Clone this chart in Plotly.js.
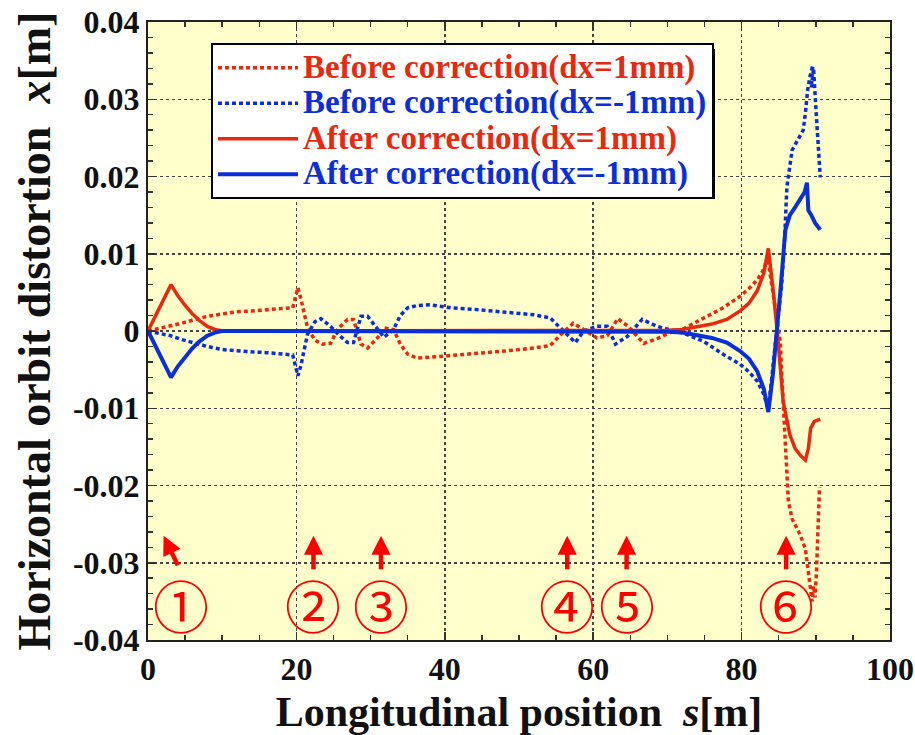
<!DOCTYPE html>
<html>
<head>
<meta charset="utf-8">
<script src="https://cdn.plot.ly/plotly-3.0.1.min.js"></script>
<style>html,body{margin:0;padding:0;background:#fff;}#chart{width:915px;height:735px;}</style>
</head>
<body>
<div id="chart"></div>
<script>
// ---- Data ----
// Before correction (dx = 1mm)  – red dotted
const sBeforePos = [0,1.5,3,4.5,6,8,10,12,14,16,18,19.5,20.2,20.6,21.5,22.5,23.5,24.6,25.6,26.9,27.7,28.7,29.6,31,31.8,33.1,34,35,36.3,38,40.8,44,48,52,54.2,55.6,57.3,58.7,60.5,61.9,63.3,64.6,66.8,68.6,70.4,72.2,74.8,77.5,79.8,81,82.1,83,83.5,84.2,84.8,85.2,85.6,86.0,86.3,86.8,87.9,88.6,88.9,89.2,89.5,89.7,89.9,90.1,90.5];
const xBeforePos = [0,0.0003,0.0006,0.001,0.0014,0.0019,0.0022,0.0025,0.0026,0.0027,0.0029,0.003,0.0056,0.0042,0.0004,-0.0012,-0.0017,-0.0016,0.0003,0.0015,0.0015,-0.0017,-0.0022,-0.0008,0.0004,0.0002,-0.0017,-0.003,-0.0035,-0.0034,-0.0032,-0.0029,-0.0026,-0.0022,-0.0019,-0.0005,0.001,0.0002,-0.0009,-0.0006,0.0016,0.0007,-0.0016,-0.001,-0.0002,0.0003,0.0016,0.003,0.0045,0.0055,0.0066,0.008,0.0096,0.005,0.0012,-0.0013,-0.0091,-0.0178,-0.022,-0.0243,-0.0264,-0.0282,-0.0308,-0.0334,-0.035,-0.033,-0.0345,-0.031,-0.0202];

// Before correction (dx = -1mm) – blue dotted
const sBeforeNeg = [0,1.5,3,4.5,6,8,10,12,14,16,18,19.5,20.2,20.6,21.5,22.5,23.3,24.6,25.6,26.9,27.7,28.7,29.6,31,31.8,33.1,34,35,36.3,38,40.8,44,48,52,54.2,55.6,57.6,58.7,60.5,61.9,63,64.6,66.6,68.6,70.4,72.2,74.8,77.5,79.8,81,82.1,83,83.6,84.2,84.8,85.4,85.8,86.1,86.8,87.6,88.3,88.6,88.9,89.2,89.6,89.4,89.7,90.0,90.3,90.6];
const xBeforeNeg = [0,-0.0003,-0.0006,-0.0011,-0.0015,-0.002,-0.0024,-0.0026,-0.0027,-0.0028,-0.003,-0.0031,-0.0058,-0.0045,-0.0004,0.0012,0.0016,0.0006,-0.0004,-0.0015,-0.0015,0.0019,0.0019,0.0002,-0.0008,0.0002,0.002,0.003,0.0033,0.0034,0.003,0.0028,0.0025,0.0021,0.0017,0.0004,-0.0015,0,0.0006,0.0006,-0.0017,-0.0007,0.0015,0.0006,0.0002,-0.0003,-0.0013,-0.003,-0.0043,-0.0053,-0.0065,-0.0082,-0.0102,-0.005,0,0.006,0.012,0.0186,0.0234,0.0248,0.026,0.0282,0.0312,0.0329,0.0344,0.0315,0.034,0.029,0.0234,0.0199];

// After correction (dx = 1mm) – red solid
const sAfterPos = [0,1,2,3.1,4,5,6,7,8,9,10,15,20,30,40,50,60,66,70,72,74,76,78,79.8,81,82.1,83,83.6,84.2,84.8,85.6,86.1,86.5,87.2,88,88.6,89,89.3,89.8,90.6];
const xAfterPos = [0,0.0019,0.0039,0.006,0.0046,0.0033,0.0022,0.0013,0.0006,0.0002,0,0,0,0,0,0,0,0,0.0001,0.0002,0.0005,0.0009,0.0015,0.0026,0.0036,0.0052,0.0075,0.0107,0.0058,0,-0.0091,-0.0115,-0.0134,-0.0152,-0.0162,-0.0167,-0.0152,-0.0126,-0.0117,-0.0114];

// After correction (dx = -1mm) – blue solid
const sAfterNeg = [0,1,2,3.1,4,5,6,7,8,9,10,15,20,30,40,50,60,66,70,72,74,76,78,79.8,81,82.1,83,83.6,84.2,84.8,85.3,85.9,86.5,87.2,87.9,88.5,88.8,89.0,89.4,89.9,90.6];
const xAfterNeg = [0,-0.0019,-0.0039,-0.006,-0.0046,-0.0033,-0.0022,-0.0013,-0.0006,-0.0002,0,0,0,0,0,0,0,0,-0.0001,-0.0002,-0.0005,-0.0009,-0.0015,-0.0026,-0.0036,-0.0052,-0.0075,-0.0105,-0.0058,0,0.006,0.0131,0.015,0.016,0.0171,0.018,0.0192,0.0156,0.015,0.014,0.0131];

const seriesNames = ['Before correction(dx=1mm)','Before correction(dx=-1mm)','After correction(dx=1mm)','After correction(dx=-1mm)'];

// tick labels
const xTickVals = [0,20,40,60,80,100];
const xTickText = ['0','20','40','60','80','100'];
const yTickVals = [-0.04,-0.03,-0.02,-0.01,0,0.01,0.02,0.03,0.04];
const yTickText = ['-0.04','-0.03','-0.02','-0.01','0','0.01','0.02','0.03','0.04'];

// circled position markers
const markerLabels = ['①','②','③','④','⑤','⑥'];
const markerS = [4.4,22.3,31.4,56.5,64.6,86.0];
const arrowHeadS = [2.1,22.3,31.4,56.5,64.5,86.0];
const arrowHeadX = -0.0265;
const markerX = -0.0353;

// ---- Drawing ----
const RED = '#E8290F';
const BLUE = '#0A2FD8';
const SERIF = 'Liberation Serif, Times New Roman, serif';

function nm(t, c){ return '<span style="color:'+c+';font-size:33px">'+t+'</span>'; }

const traces = [
  {x:sBeforePos, y:xBeforePos, mode:'lines', name:nm(seriesNames[0],RED), line:{color:RED, width:3.5, dash:'4px,3px'}},
  {x:sBeforeNeg, y:xBeforeNeg, mode:'lines', name:nm(seriesNames[1],BLUE), line:{color:BLUE, width:3.5, dash:'4px,3px'}},
  {x:sAfterPos, y:xAfterPos, mode:'lines', name:nm(seriesNames[2],RED), line:{color:RED, width:3.5}},
  {x:sAfterNeg, y:xAfterNeg, mode:'lines', name:nm(seriesNames[3],BLUE), line:{color:BLUE, width:4}}
];

const annotations = [];
for (let i=0;i<markerLabels.length;i++){
  annotations.push({x:markerS[i], y:markerX, xref:'x', yref:'y', text:markerLabels[i], showarrow:false,
    font:{family:'Noto Sans CJK JP', size:56, color:'#FF0000'}});
  annotations.push({x:arrowHeadS[i], y:arrowHeadX, xref:'x', yref:'y', text:'', showarrow:true,
    arrowhead:2, arrowsize:0.85, arrowwidth:4.5, arrowcolor:'#FF0000', ax:(i===0?15:0), ay:(i===0?31:35)});
}

// legend drop shadow (paper coords of the legend box, offset by a few px)
const PW = 742, PH = 618;
const shapes = [{type:'rect', xref:'paper', yref:'paper', layer:'above',
  x0:(215-148)/PW, x1:(715-148)/PW, y0:1-(199-22)/PH, y1:1-(49-22)/PH,
  fillcolor:'#000', line:{width:0}}];

const axisCommon = {
  ticks:'inside', ticklen:8, tickwidth:1.5, tickcolor:'#333', mirror:'ticks',
  showline:true, linecolor:'#222', linewidth:2,
  showgrid:true, gridcolor:'#444', gridwidth:1.5, griddash:'dot', zeroline:false,
  tickfont:{family:SERIF, size:32, color:'#111', weight:'bold'}
};

const layout = {
  width:915, height:735,
  margin:{l:148, r:25, t:22, b:95},
  paper_bgcolor:'#FFFFFF', plot_bgcolor:'#FFFFCC',
  showlegend:true,
  legend:{x:(211-148)/PW, y:1-(43-22)/PH, xanchor:'left', yanchor:'top', bgcolor:'#FFFFFF', bordercolor:'#000', borderwidth:2,
    font:{family:SERIF, size:25, weight:'bold'}, itemwidth:80},
  xaxis:Object.assign({}, axisCommon, {range:[0,100], tickvals:xTickVals, ticktext:xTickText,
    minor:{dtick:5, ticks:'inside', ticklen:5, tickcolor:'#333', showgrid:false},
    title:{text:'Longitudinal position  <i>s</i>[m]', font:{family:SERIF, size:42, color:'#111', weight:'bold'}, standoff:10}}),
  yaxis:Object.assign({}, axisCommon, {range:[-0.04,0.04], tickvals:yTickVals, ticktext:yTickText,
    minor:{dtick:0.002, ticks:'inside', ticklen:5, tickcolor:'#333', showgrid:false},
    title:{text:'Horizontal orbit distortion  <i>x</i>[m]', font:{family:SERIF, size:46, color:'#111', weight:'bold'}, standoff:8}}),
  annotations:annotations,
  shapes:shapes
};

Plotly.newPlot('chart', traces, layout, {displayModeBar:false, staticPlot:true});
</script>
</body>
</html>
